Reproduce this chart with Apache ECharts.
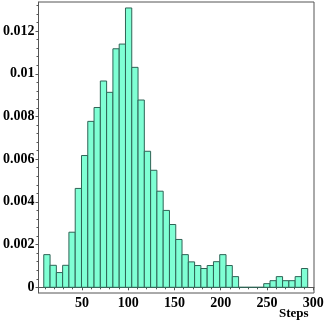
<!DOCTYPE html>
<html>
<head>
<meta charset="utf-8">
<script src="https://cdn.jsdelivr.net/npm/echarts@6/dist/echarts.min.js"></script>
<style>html,body{margin:0;padding:0;background:#fff}#c{width:327px;height:327px}</style>
</head>
<body>
<div id="c"></div>
<script>
// Histogram bin left edges (Steps) and last right edge
var binEdges = [8.71, 15.51, 22.30, 29.10, 35.89, 42.69, 49.48, 56.28, 63.07, 69.87,
  76.66, 83.46, 90.25, 97.05, 103.84, 110.64, 117.43, 124.23, 131.02, 137.82,
  144.61, 151.41, 158.20, 165.00, 171.79, 178.59, 185.38, 192.18, 198.97, 205.77,
  212.56, 219.36, 226.15, 232.95, 239.74, 246.54, 253.33, 260.13, 266.92, 273.72,
  280.51, 287.31, 294.10];
// Density per bin
var density = [0.00153, 0.00103, 0.00069, 0.00103, 0.00258, 0.00463, 0.00617, 0.00777, 0.00842, 0.00966,
  0.00913, 0.01117, 0.01139, 0.01308, 0.0103, 0.00877, 0.00637, 0.00548, 0.0045, 0.0036,
  0.00294, 0.00224, 0.00153, 0.00119, 0.00102, 0.00088, 0.00102, 0.0012, 0.00153, 0.00102,
  0.0005, 0, 0, 0, 0, 0.00017, 0.00031, 0.0005, 0.00031, 0.00031,
  0.0005, 0.00088];
var xTicks = [50, 100, 150, 200, 250, 300];
var yTicks = [0, 0.002, 0.004, 0.006, 0.008, 0.01, 0.012];
var xMinorTicks = [10, 20, 30, 40, 60, 70, 80, 90, 110, 120, 130, 140, 160, 170, 180, 190, 210, 220, 230, 240, 260, 270, 280, 290];
var yMinorTicks = [0.0004, 0.0008, 0.0012, 0.0016, 0.0024, 0.0028, 0.0032, 0.0036, 0.0044, 0.0048, 0.0052, 0.0056,
  0.0064, 0.0068, 0.0072, 0.0076, 0.0084, 0.0088, 0.0092, 0.0096, 0.0104, 0.0108, 0.0112, 0.0116, 0.0124, 0.0128, 0.0132];
var xLabel = 'Steps';

var data = density.map(function (v, i) { return [binEdges[i], binEdges[i + 1], v]; });

var font = '"Liberation Serif", "Times New Roman", serif';
var axisCol = '#555555';
var X_MIN = 3.0, X_MAX = 300.9, Y_MIN = -0.000267, Y_MAX = 0.01336;

var chart = echarts.init(document.getElementById('c'), null, {renderer: 'canvas'});
chart.setOption({
  animation: false,
  grid: {left: 37, right: 13, top: 2, bottom: 34, show: true, borderColor: axisCol, borderWidth: 1},
  xAxis: [{
    type: 'value', min: X_MIN, max: X_MAX,
    axisLine: {lineStyle: {color: axisCol}},
    splitLine: {show: false},
    axisTick: {customValues: xTicks, length: 3, lineStyle: {color: axisCol}},
    axisLabel: {customValues: xTicks, color: '#000', fontFamily: font, fontWeight: 'bold', fontSize: 14, margin: 3, showMaxLabel: true}
  }, {
    type: 'value', min: X_MIN, max: X_MAX, position: 'bottom',
    axisLine: {show: false}, splitLine: {show: false},
    axisTick: {customValues: xMinorTicks, length: 2, lineStyle: {color: axisCol}},
    axisLabel: {show: false}
  }],
  yAxis: [{
    type: 'value', min: Y_MIN, max: Y_MAX,
    axisLine: {show: true, lineStyle: {color: axisCol}},
    splitLine: {show: false},
    axisTick: {show: true, customValues: yTicks, length: 3, lineStyle: {color: axisCol}},
    axisLabel: {customValues: yTicks, color: '#000', fontFamily: font, fontWeight: 'bold', fontSize: 14, margin: 4}
  }, {
    type: 'value', min: Y_MIN, max: Y_MAX, position: 'left',
    axisLine: {show: false}, splitLine: {show: false},
    axisTick: {show: true, customValues: yMinorTicks, length: 2, lineStyle: {color: axisCol}},
    axisLabel: {show: false}
  }],
  graphic: [{
    type: 'text', left: 279, top: 307,
    style: {text: xLabel, fill: '#000', font: 'bold 13px ' + font}
  }],
  series: [{
    type: 'custom',
    xAxisIndex: 0, yAxisIndex: 0,
    encode: {x: [0, 1], y: 2},
    data: data,
    renderItem: function (params, api) {
      var p0 = api.coord([api.value(0), api.value(2)]);
      var p1 = api.coord([api.value(1), 0]);
      return {
        type: 'rect',
        shape: {x: p0[0], y: p0[1], width: p1[0] - p0[0], height: p1[1] - p0[1]},
        style: {fill: '#7fffd4', stroke: '#2f6456', lineWidth: 1}
      };
    }
  }]
});
</script>
</body>
</html>
